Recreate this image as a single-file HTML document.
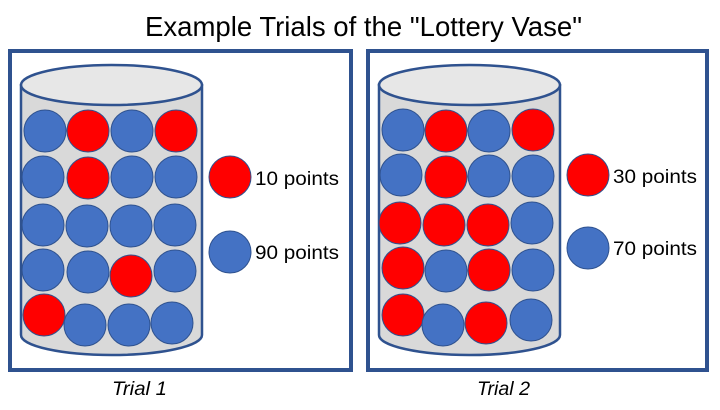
<!DOCTYPE html>
<html><head><meta charset="utf-8"><style>html,body{margin:0;padding:0;background:#fff}</style></head>
<body>
<svg width="720" height="405" viewBox="0 0 720 405" xmlns="http://www.w3.org/2000/svg" font-family="Liberation Sans, sans-serif">
<text x="145" y="36" font-size="28" textLength="437" lengthAdjust="spacingAndGlyphs" fill="#000">Example Trials of the "Lottery Vase"</text>
<g stroke="#2f528f" stroke-width="4" fill="none">
<rect x="10" y="51" width="341" height="319"/>
<rect x="368" y="51" width="339" height="319"/>
</g>
<g stroke="#2f528f" stroke-width="2.5">
<path d="M21 85 L21 335 A90.5 20 0 0 0 202 335 L202 85 Z" fill="#d9d9d9"/>
<ellipse cx="111.5" cy="85" rx="90.5" ry="20" fill="#e7e7e7"/>
<path d="M379 85 L379 335 A90.5 20 0 0 0 560 335 L560 85 Z" fill="#d9d9d9"/>
<ellipse cx="469.5" cy="85" rx="90.5" ry="20" fill="#e7e7e7"/>
</g>
<g stroke="#2f528f" stroke-width="1" fill="#4472c4">
<circle cx="45" cy="131" r="21"/><circle cx="88" cy="131" r="21" fill="#f00"/><circle cx="132" cy="131" r="21"/><circle cx="176" cy="131" r="21" fill="#f00"/>
<circle cx="43" cy="177" r="21"/><circle cx="88" cy="178" r="21" fill="#f00"/><circle cx="132" cy="177" r="21"/><circle cx="176" cy="177" r="21"/>
<circle cx="43" cy="225" r="21"/><circle cx="87" cy="226" r="21"/><circle cx="131" cy="226" r="21"/><circle cx="175" cy="225" r="21"/>
<circle cx="43" cy="270" r="21"/><circle cx="88" cy="272" r="21"/><circle cx="131" cy="276" r="21" fill="#f00"/><circle cx="175" cy="271" r="21"/>
<circle cx="44" cy="315" r="21" fill="#f00"/><circle cx="85" cy="325" r="21"/><circle cx="129" cy="325" r="21"/><circle cx="172" cy="323" r="21"/>
<circle cx="230" cy="177" r="21" fill="#f00"/><circle cx="230" cy="252" r="21"/>
<circle cx="403" cy="130" r="21"/><circle cx="446" cy="131" r="21" fill="#f00"/><circle cx="489" cy="131" r="21"/><circle cx="533" cy="130" r="21" fill="#f00"/>
<circle cx="401" cy="175" r="21"/><circle cx="446" cy="177" r="21" fill="#f00"/><circle cx="489" cy="176" r="21"/><circle cx="533" cy="176" r="21"/>
<circle cx="400" cy="223" r="21" fill="#f00"/><circle cx="444" cy="225" r="21" fill="#f00"/><circle cx="488" cy="225" r="21" fill="#f00"/><circle cx="532" cy="223" r="21"/>
<circle cx="403" cy="268" r="21" fill="#f00"/><circle cx="446" cy="271" r="21"/><circle cx="489" cy="270" r="21" fill="#f00"/><circle cx="533" cy="270" r="21"/>
<circle cx="403" cy="315" r="21" fill="#f00"/><circle cx="443" cy="325" r="21"/><circle cx="486" cy="323" r="21" fill="#f00"/><circle cx="531" cy="320" r="21"/>
<circle cx="588" cy="175" r="21" fill="#f00"/><circle cx="588" cy="248" r="21"/>
</g>
<g font-size="19" fill="#000">
<text x="255" y="185" textLength="84" lengthAdjust="spacingAndGlyphs">10 points</text>
<text x="255" y="259" textLength="84" lengthAdjust="spacingAndGlyphs">90 points</text>
<text x="613" y="183" textLength="84" lengthAdjust="spacingAndGlyphs">30 points</text>
<text x="613" y="255" textLength="84" lengthAdjust="spacingAndGlyphs">70 points</text>
</g>
<g font-size="19" font-style="italic" fill="#000">
<text x="112" y="395" textLength="55" lengthAdjust="spacingAndGlyphs">Trial 1</text>
<text x="477" y="395" textLength="53" lengthAdjust="spacingAndGlyphs">Trial 2</text>
</g>
</svg>
</body></html>
